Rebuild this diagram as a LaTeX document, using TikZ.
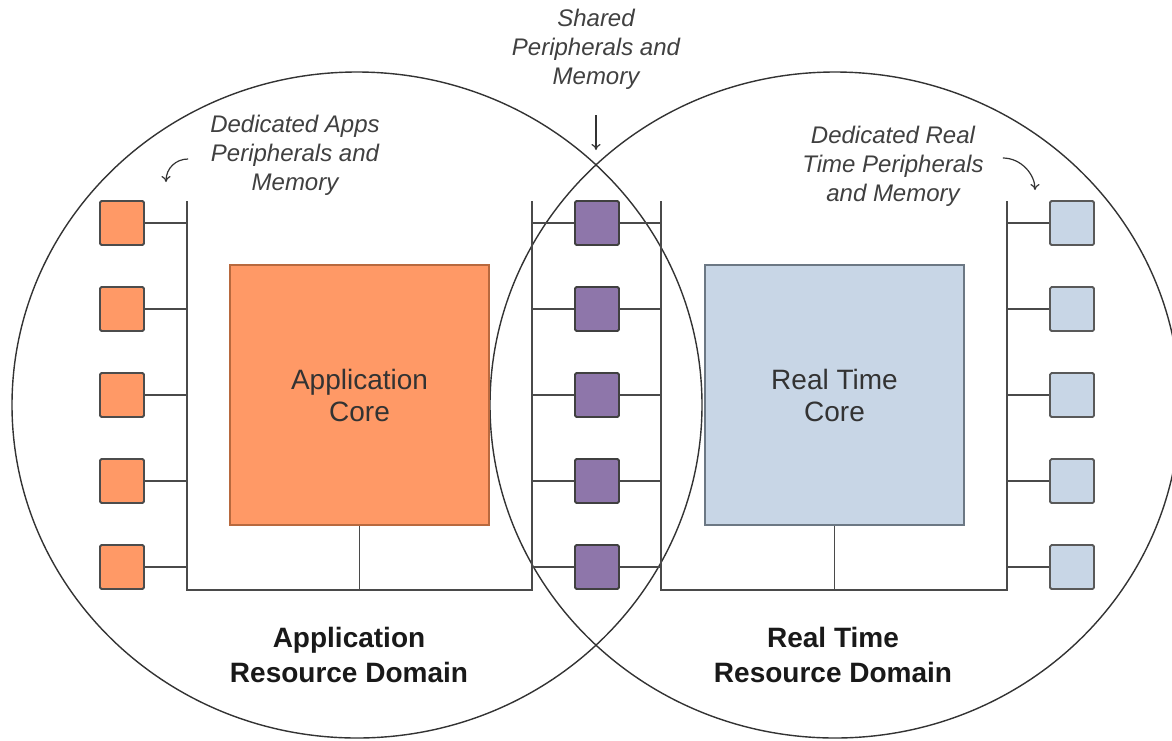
\documentclass[tikz,border=0pt]{standalone}
\usepackage{fontspec}
\setmainfont{Liberation Sans}
\usetikzlibrary{arrows.meta}

\definecolor{apporange}{HTML}{FF9966}
\definecolor{appedge}{HTML}{B8693E}
\definecolor{shpurple}{HTML}{8E76AA}
\definecolor{rtblue}{HTML}{C8D6E6}
\definecolor{rtedge}{HTML}{6C7884}
\definecolor{wire}{HTML}{4A4A4A}
\definecolor{notegray}{HTML}{404040}

\tikzset{
  periph/.style={draw=#1, line width=1.8pt, minimum size=44, inner sep=0pt, rounded corners=1.5pt},
  appbox/.style={periph=black!70, fill=apporange},
  shbox/.style={periph=black!75, fill=shpurple},
  rtbox/.style={periph=black!65, fill=rtblue},
  core/.style={minimum width=259, minimum height=260, inner sep=0pt, align=center,
    text=black!80, font=\fontsize{28}{32}\selectfont},
  note/.style={align=center, inner sep=0pt, text=notegray, font=\fontsize{24}{29}\selectfont\itshape},
  domlabel/.style={align=center, inner sep=0pt, text=black!90, font=\fontsize{28}{35}\selectfont\bfseries},
  bus/.style={draw=wire, line width=1.8pt},
  pointer/.style={draw=black!80, line width=1.2pt, -{To[length=6pt,width=9pt]}}
}

\begin{document}
\begin{tikzpicture}[x=1pt,y=-1pt]
\useasboundingbox (0,0) rectangle (1172,740);

\draw[black!80, line width=1.4pt] (357,405) ellipse [x radius=345pt, y radius=333pt];
\draw[black!80, line width=1.4pt] (835,405) ellipse [x radius=345pt, y radius=333pt];

\coordinate (abus) at (187,201);
\coordinate (abot) at (187,590);
\coordinate (shl) at (532,201);
\coordinate (shlbot) at (532,590);
\coordinate (shr) at (661,201);
\coordinate (shrbot) at (661,590);
\coordinate (rbus) at (1007,201);
\coordinate (rbot) at (1007,590);

\draw[bus] (abus) -- (abot) -- (shlbot) -- (shl);
\draw[bus] (shr) -- (shrbot) -- (rbot) -- (rbus);

\node[core, fill=apporange, draw=appedge, line width=1.8pt] (acore) at (359.5,395) {Application\\Core};
\node[core, fill=rtblue, draw=rtedge, line width=1.8pt] (rcore) at (834.5,395) {Real Time\\Core};
\draw[bus] (acore.south) -- (acore.south |- abot);
\draw[bus] (rcore.south) -- (rcore.south |- rbot);

\node[appbox] (a1) at (122,223) {};
\node[appbox] (a2) at (122,309) {};
\node[appbox] (a3) at (122,395) {};
\node[appbox] (a4) at (122,481) {};
\node[appbox] (a5) at (122,567) {};

\node[shbox] (s1) at (597,223) {};
\node[shbox] (s2) at (597,309) {};
\node[shbox] (s3) at (597,395) {};
\node[shbox] (s4) at (597,481) {};
\node[shbox] (s5) at (597,567) {};

\node[rtbox] (r1) at (1072,223) {};
\node[rtbox] (r2) at (1072,309) {};
\node[rtbox] (r3) at (1072,395) {};
\node[rtbox] (r4) at (1072,481) {};
\node[rtbox] (r5) at (1072,567) {};

\draw[bus] (a1) -- (a1 -| abus) (a2) -- (a2 -| abus) (a3) -- (a3 -| abus) (a4) -- (a4 -| abus) (a5) -- (a5 -| abus);
\draw[bus] (s1) -- (s1 -| shl) (s2) -- (s2 -| shl) (s3) -- (s3 -| shl) (s4) -- (s4 -| shl) (s5) -- (s5 -| shl);
\draw[bus] (s1) -- (s1 -| shr) (s2) -- (s2 -| shr) (s3) -- (s3 -| shr) (s4) -- (s4 -| shr) (s5) -- (s5 -| shr);
\draw[bus] (r1) -- (r1 -| rbus) (r2) -- (r2 -| rbus) (r3) -- (r3 -| rbus) (r4) -- (r4 -| rbus) (r5) -- (r5 -| rbus);

\node[note] (appnote) at (295,155) {Dedicated Apps\\Peripherals and\\Memory};
\node[note] (shnote) at (596,49) {Shared\\Peripherals and\\Memory};
\node[note] (rtnote) at (893,166) {Dedicated Real\\Time Peripherals\\and Memory};

\coordinate (apptip) at (166,182);
\coordinate (shtip) at (596,150);
\coordinate (rttip) at (1035,190);
\draw[pointer] ([xshift=-22pt,yshift=-4pt]appnote.west) .. controls +(-12,0) and +(0,-14) .. (apptip);
\draw[pointer, shorten <=26pt] (shnote.south) -- (shtip);
\draw[pointer] ([xshift=19pt,yshift=8pt]rtnote.east) .. controls +(18,0) and +(0,-16) .. (rttip);

\node[domlabel] (appdom) at (349,655) {Application\\Resource Domain};
\node[domlabel] (rtdom) at (833,655) {Real Time\\Resource Domain};

\end{tikzpicture}
\end{document}
